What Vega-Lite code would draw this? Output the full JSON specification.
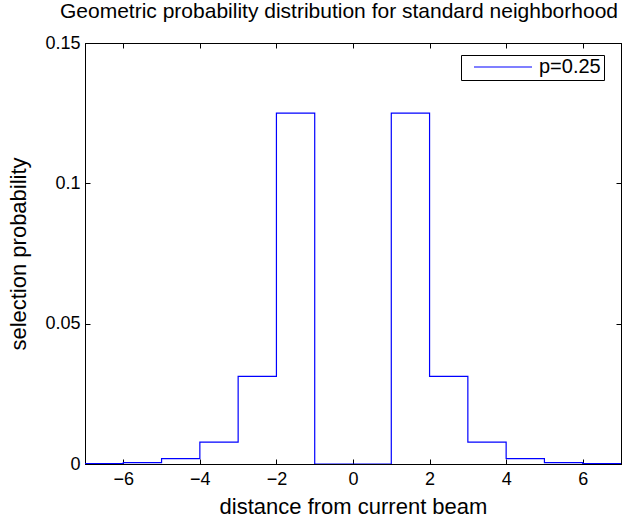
{
  "$schema": "https://vega.github.io/schema/vega-lite/v6.json",
  "autosize": "none",
  "width": 536,
  "height": 421,
  "padding": {"left": 85, "top": 43, "right": 1, "bottom": 57},
  "background": "white",
  "config": {
    "font": "Liberation Sans",
    "view": {"stroke": "black", "strokeWidth": 1},
    "axis": {"grid": false, "domainColor": "black", "tickColor": "black", "labelColor": "black", "titleColor": "black", "labelFontSize": 18, "titleFontSize": 22, "titleFontWeight": "normal", "tickSize": -5, "labelPadding": 10}
  },
  "title": {"text": "Geometric probability distribution for standard neighborhood", "fontSize": 21, "fontWeight": "normal", "color": "black", "offset": 12, "dx": -14},
  "data": {
    "values": [
      {"x": -7, "y": 0.000122, "s": "p=0.25"},
      {"x": -6, "y": 0.000488, "s": "p=0.25"},
      {"x": -5, "y": 0.00195, "s": "p=0.25"},
      {"x": -4, "y": 0.0078, "s": "p=0.25"},
      {"x": -3, "y": 0.03125, "s": "p=0.25"},
      {"x": -2, "y": 0.125, "s": "p=0.25"},
      {"x": -1, "y": 0, "s": "p=0.25"},
      {"x": 0, "y": 0, "s": "p=0.25"},
      {"x": 1, "y": 0.125, "s": "p=0.25"},
      {"x": 2, "y": 0.03125, "s": "p=0.25"},
      {"x": 3, "y": 0.0078, "s": "p=0.25"},
      {"x": 4, "y": 0.00195, "s": "p=0.25"},
      {"x": 5, "y": 0.000488, "s": "p=0.25"},
      {"x": 6, "y": 0.000122, "s": "p=0.25"},
      {"x": 7, "y": 0.000122, "s": "p=0.25"}
    ]
  },
  "layer": [
    {
      "mark": {"type": "line", "interpolate": "step-after", "strokeWidth": 1.2, "clip": true},
      "encoding": {
        "x": {"field": "x", "type": "quantitative", "scale": {"domain": [-7, 7], "nice": false, "zero": false},
              "axis": {"orient": "bottom", "values": [-6, -4, -2, 0, 2, 4, 6], "title": "distance from current beam", "titlePadding": 8, "labelPadding": 11}},
        "y": {"field": "y", "type": "quantitative", "scale": {"domain": [0, 0.15], "nice": false},
              "axis": {"orient": "left", "values": [0, 0.05, 0.1, 0.15], "labelExpr": "toString(datum.value)", "title": "selection probability", "titlePadding": 14}},
        "color": {"field": "s", "type": "nominal", "scale": {"range": ["#0000ff"]},
                  "legend": {"title": null, "orient": "none", "legendX": 376, "legendY": 12, "symbolType": "stroke", "symbolSize": 3364, "symbolStrokeWidth": 1.2, "clipHeight": 18, "padding": 3, "symbolOffset": 9, "labelOffset": 6, "labelFontSize": 20, "labelColor": "black", "strokeColor": "black", "fillColor": "white"}}
      }
    },
    {
      "mark": {"type": "line", "opacity": 0},
      "encoding": {
        "x": {"field": "x", "type": "quantitative", "axis": {"orient": "top", "values": [-6, -4, -2, 0, 2, 4, 6], "labels": false, "title": null}},
        "y": {"field": "y", "type": "quantitative", "axis": {"orient": "right", "values": [0, 0.05, 0.1, 0.15], "labels": false, "title": null}}
      }
    }
  ],
  "resolve": {"axis": {"x": "independent", "y": "independent"}}
}
